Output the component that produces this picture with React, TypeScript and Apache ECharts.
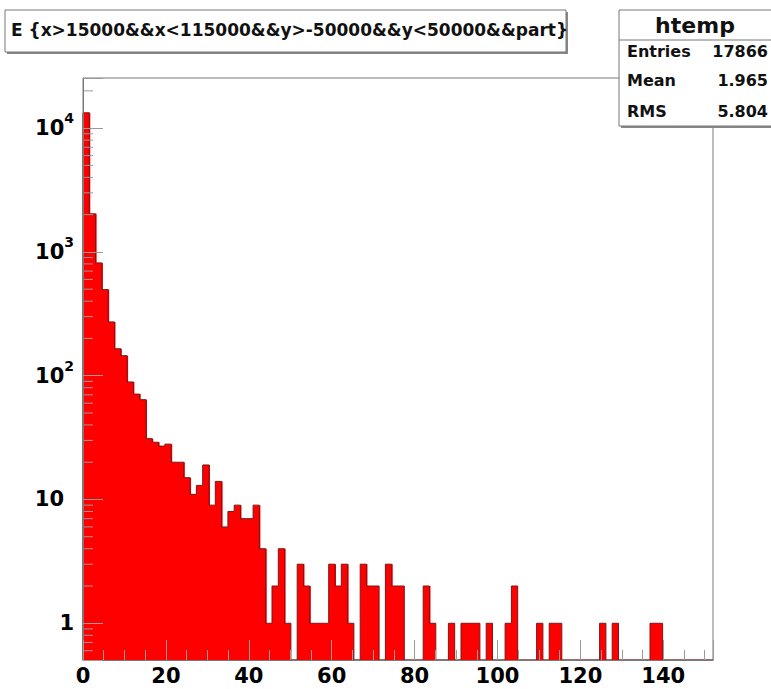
import React, { useEffect, useRef } from 'react';
import * as echarts from 'echarts';

// ---- data ----
const BIN_WIDTH = 1.52;
const X_MIN = 0;
const X_MAX = 152;
const Y_MIN = 0.505;
const Y_MAX = 25400;

const counts: number[] = [
  13300, 2030, 815, 496, 272, 165, 145, 89, 71, 64,
  31, 29, 27, 28, 20, 20, 15, 11, 13, 19,
  9, 14, 6, 8, 9, 7, 7, 9, 4, 1,
  2, 4, 1, 0, 3, 2, 1, 1, 1, 3,
  2, 3, 1, 0, 3, 2, 2, 0, 3, 2,
  2, 0, 0, 0, 2, 1, 0, 0, 1, 0,
  1, 1, 1, 0, 1, 0, 0, 1, 2, 0,
  0, 0, 1, 0, 1, 1, 0, 0, 0, 0,
  0, 0, 1, 0, 1, 0, 0, 0, 0, 0,
  1, 1, 0, 0, 0, 0, 0, 0, 0, 0,
];

const xMajorTicks = [0, 20, 40, 60, 80, 100, 120, 140];
const yDecades = [1, 10, 100, 1000, 10000];
const yMinorMultipliers = [2, 3, 4, 5, 6, 7, 8, 9];

const titleText = 'E {x>15000&&x<115000&&y>-50000&&y<50000&&part}';
const statsName = 'htemp';
const statsRows = [
  ['Entries', '17866'],
  ['Mean', '1.965'],
  ['RMS', '5.804'],
];

const FONT = 'DejaVu Sans';
const TICK_COLOR = '#9a9a9a';
const FRAME_COLOR = '#7a7a7a';

export default function App() {
  const ref = useRef<HTMLDivElement>(null);

  useEffect(() => {
    document.body.style.margin = '0';
    const chart = echarts.init(ref.current!, null, { renderer: 'svg' });

    const histData = counts.map((c, i) => [
      i * BIN_WIDTH,
      (i + 1) * BIN_WIDTH,
      Math.max(c, Y_MIN),
      c,
      i > 0 ? counts[i - 1] : 0,
      i < counts.length - 1 ? counts[i + 1] : 0,
    ]);

    const yMinor: number[][] = [];
    [0.1, ...yDecades].forEach((d) => {
      yMinorMultipliers.forEach((m) => {
        const v = d * m;
        if (v > Y_MIN && v < Y_MAX) yMinor.push([X_MIN, v]);
      });
    });

    const labelFmt = (v: number) => {
      const l = Math.log10(v);
      const e = Math.round(l);
      if (Math.abs(l - e) > 1e-6) return '';
      if (e === 0) return '1';
      if (e === 1) return '{p|10}';
      return '10{sup|' + e + '}';
    };

    const statsGraphics: any[] = [];
    statsRows.forEach((r, i) => {
      const y = [52, 81, 112][i];
      statsGraphics.push({
        type: 'text', left: 627, top: y - 9, z: 100,
        style: { text: r[0], font: `bold 16px "${FONT}"`, fill: '#111' },
      });
      statsGraphics.push({
        type: 'text', right: 3, top: y - 9, z: 100,
        style: { text: r[1], font: `bold 16px "${FONT}"`, fill: '#111' },
      });
    });

    const option: any = {
      animation: false,
      backgroundColor: '#ffffff',
      grid: {
        left: 83, right: 58, top: 78, bottom: 29,
        show: true, borderColor: FRAME_COLOR, borderWidth: 1,
        backgroundColor: 'transparent',
      },
      xAxis: [
        {
          type: 'value', min: X_MIN, max: X_MAX, interval: 20, z: 10,
          position: 'bottom',
          axisLine: { show: true, lineStyle: { color: FRAME_COLOR, width: 1 } },
          axisTick: { show: true, inside: true, length: 20, lineStyle: { color: TICK_COLOR } },
          splitLine: { show: false },
          axisLabel: {
            margin: 4, fontFamily: FONT, fontWeight: 'bold', fontSize: 21, color: '#000',
            lineHeight: 24,
            formatter: (v: number) => (xMajorTicks.includes(v) ? String(v) : ''),
          },
        },
        {
          type: 'value', min: X_MIN, max: X_MAX, interval: 5, z: 10,
          position: 'bottom',
          axisLine: { show: false },
          axisTick: { show: true, inside: true, length: 10, lineStyle: { color: TICK_COLOR } },
          splitLine: { show: false },
          axisLabel: { show: false },
        },
      ],
      yAxis: {
        type: 'log', logBase: 10, min: Y_MIN, max: Y_MAX, z: 10,
        axisLine: { show: true, lineStyle: { color: FRAME_COLOR, width: 1 } },
        axisTick: { show: true, inside: true, length: 20, lineStyle: { color: TICK_COLOR } },
        splitLine: { show: false },
        axisLabel: {
          margin: 9, fontFamily: FONT, fontWeight: 'bold', fontSize: 21, color: '#000',
          lineHeight: 34,
          formatter: labelFmt,
          rich: {
            sup: { fontFamily: FONT, fontWeight: 'bold', fontSize: 14, lineHeight: 14, verticalAlign: 'top', color: '#000' },
            p: { fontFamily: FONT, fontWeight: 'bold', fontSize: 21, color: '#000', padding: [0, 10, 0, 0] },
          },
        },
      },
      series: [
        {
          type: 'custom',
          xAxisIndex: 0, yAxisIndex: 0, z: 2,
          encode: { x: [0, 1], y: 2 },
          data: histData,
          renderItem: (params: any, api: any) => {
            const x0 = api.value(0);
            const x1 = api.value(1);
            const c = api.value(3);
            const pc = api.value(4);
            const nc = api.value(5);
            const yTop = c > 0 ? c : Y_MIN;
            const yPrev = pc > 0 ? pc : Y_MIN;
            const a = api.coord([x0, yTop]);
            const b = api.coord([x1, yTop]);
            const base = api.coord([x0, Y_MIN]);
            const prev = api.coord([x0, yPrev]);
            const children: any[] = [];
            if (c > 0) {
              const extra = nc > 0 ? 1 : 0;
              children.push({
                type: 'rect',
                shape: { x: a[0], y: a[1], width: b[0] - a[0] + extra, height: base[1] - a[1] },
                style: { fill: '#ff0000' },
              });
            }
            children.push({
              type: 'polyline',
              shape: { points: [[prev[0], prev[1]], [a[0], a[1]], [b[0], b[1]]] },
              style: { fill: 'none', stroke: '#7d1616', lineWidth: 1 },
            });
            return { type: 'group', children };
          },
        },
        {
          type: 'custom',
          xAxisIndex: 0, yAxisIndex: 0, z: 5,
          encode: { x: 0, y: 1 },
          data: yMinor,
          renderItem: (params: any, api: any) => {
            const p = api.coord([api.value(0), api.value(1)]);
            return {
              type: 'line',
              shape: { x1: p[0], y1: p[1], x2: p[0] + 10, y2: p[1] },
              style: { stroke: TICK_COLOR, lineWidth: 1 },
            };
          },
        },
      ],
      graphic: [
        // title box
        { type: 'rect', z: 90, shape: { x: 7, y: 12, width: 561, height: 42 }, style: { fill: '#888' } },
        { type: 'rect', z: 91, shape: { x: 5, y: 10, width: 561, height: 42 }, style: { fill: '#fff', stroke: '#777', lineWidth: 1 } },
        {
          type: 'text', left: 11, top: 21, z: 100,
          style: { text: titleText, font: `bold 17px "${FONT}"`, fill: '#111' },
        },
        // stats box
        { type: 'rect', z: 90, shape: { x: 621, y: 12, width: 160, height: 116 }, style: { fill: '#888' } },
        { type: 'rect', z: 91, shape: { x: 619, y: 10, width: 160, height: 116 }, style: { fill: '#fff', stroke: '#777', lineWidth: 1 } },
        { type: 'line', z: 92, shape: { x1: 619, y1: 40, x2: 771, y2: 40 }, style: { stroke: '#777', lineWidth: 1 } },
        {
          type: 'text', x: 695, y: 25, z: 100,
          style: { text: statsName, font: `bold 22px "${FONT}"`, fill: '#111', textAlign: 'center', textVerticalAlign: 'middle' },
        },
        ...statsGraphics,
      ],
    };

    chart.setOption(option);
    return () => chart.dispose();
  }, []);

  return <div ref={ref} style={{ width: 771, height: 689 }} />;
}
